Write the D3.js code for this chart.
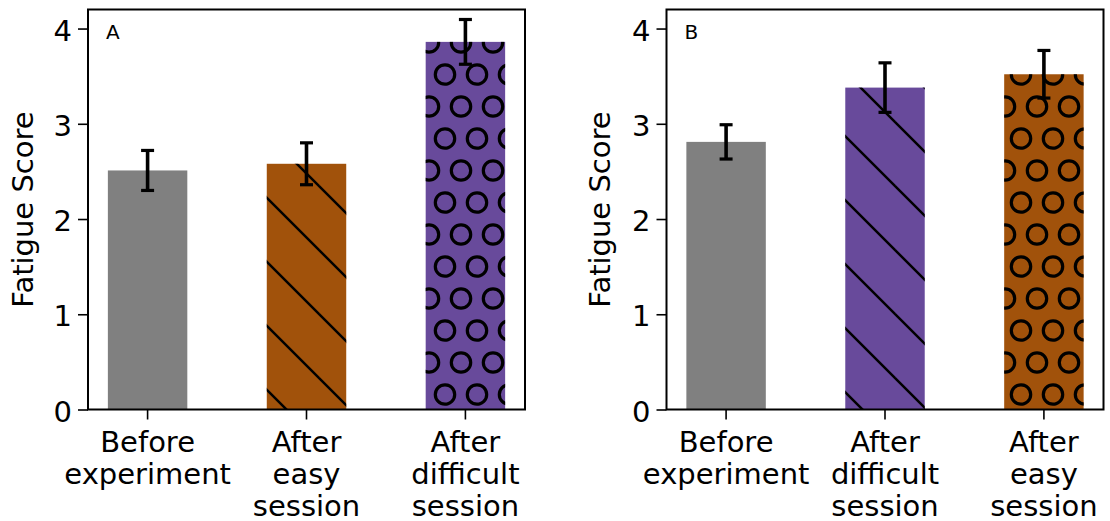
<!DOCTYPE html>
<html>
<head>
<meta charset="utf-8">
<script src="https://cdn.jsdelivr.net/npm/d3@7"></script>
<style>
  html, body { margin: 0; padding: 0; background: #fff; }
  svg { display: block; }
  text { font-family: "DejaVu Sans", sans-serif; fill: #000; }
</style>
</head>
<body>
<svg id="chart" width="1110" height="521"></svg>
<script>
// ---- data ----
const panelLabels = ["A", "B"];
const categoriesA = ["Before\nexperiment", "After\neasy\nsession", "After\ndifficult\nsession"];
const valuesA = [2.51, 2.58, 3.86];
const errorsA = [0.21, 0.22, 0.235];
const categoriesB = ["Before\nexperiment", "After\ndifficult\nsession", "After\neasy\nsession"];
const valuesB = [2.81, 3.38, 3.52];
const errorsB = [0.18, 0.26, 0.25];
const yTicks = [0, 1, 2, 3, 4];
const yMax = 4.2;
const yLabel = "Fatigue Score";

// ---- styles ----
const GRAY = "#808080", ORANGE = "#a1520b", PURPLE = "#684a9b";
const stylesA = [{fill: GRAY, pat: null}, {fill: ORANGE, pat: "hatch"}, {fill: PURPLE, pat: "circles"}];
const stylesB = [{fill: GRAY, pat: null}, {fill: PURPLE, pat: "hatch"}, {fill: ORANGE, pat: "circles"}];
const FONT = 29;

const svg = d3.select("#chart");
const defs = svg.append("defs");

// diagonal hatch pattern (lines going down-right)
const hp = defs.append("pattern").attr("id", "hatch")
  .attr("patternUnits", "userSpaceOnUse").attr("width", 64).attr("height", 64);
[-69, -5, 59].forEach(c => {
  hp.append("line").attr("x1", -10).attr("y1", -10 + c).attr("x2", 74).attr("y2", 74 + c)
    .attr("stroke", "#000").attr("stroke-width", 2.5);
});

// circles pattern
const cw = 32, ch = 64;
const cp = defs.append("pattern").attr("id", "circles")
  .attr("patternUnits", "userSpaceOnUse").attr("width", cw).attr("height", ch);
[[29, 10.5], [13, 42.5]].forEach(([cx, cy]) => {
  [-cw, 0, cw].forEach(dx => [-ch, 0, ch].forEach(dy => {
    cp.append("circle").attr("cx", cx + dx).attr("cy", cy + dy).attr("r", 9.7)
      .attr("fill", "none").attr("stroke", "#000").attr("stroke-width", 3.2);
  }));
});

const panels = [
  {label: panelLabels[0], cats: categoriesA, vals: valuesA, errs: errorsA, styles: stylesA,
   left: 88, right: 525, ylabX: 33},
  {label: panelLabels[1], cats: categoriesB, vals: valuesB, errs: errorsB, styles: stylesB,
   left: 666.5, right: 1103.5, ylabX: 610}
];
const plotTop = 9.5, plotBottom = 409.5;

panels.forEach(p => {
  const g = svg.append("g");
  const x = d3.scaleBand().domain(p.cats).range([p.left, p.right])
    .paddingInner(0.5).paddingOuter(0.125);
  const y = d3.scaleLinear().domain([0, yMax]).range([plotBottom, plotTop]);

  // bars
  const data = p.cats.map((c, i) => ({c, v: p.vals[i], e: p.errs[i], s: p.styles[i]}));
  g.selectAll("rect.bar").data(data).enter().append("rect").attr("class", "bar")
    .attr("x", d => x(d.c)).attr("width", x.bandwidth())
    .attr("y", d => y(d.v)).attr("height", d => y(0) - y(d.v))
    .attr("fill", d => d.s.fill);
  g.selectAll("rect.pat").data(data.filter(d => d.s.pat)).enter().append("rect").attr("class", "pat")
    .attr("x", d => x(d.c)).attr("width", x.bandwidth())
    .attr("y", d => y(d.v)).attr("height", d => y(0) - y(d.v))
    .attr("fill", d => `url(#${d.s.pat})`);

  // error bars
  const eb = g.selectAll("g.err").data(data).enter().append("g").attr("class", "err");
  const cx = d => x(d.c) + x.bandwidth() / 2;
  eb.append("line").attr("x1", cx).attr("x2", cx)
    .attr("y1", d => y(d.v - d.e)).attr("y2", d => y(d.v + d.e))
    .attr("stroke", "#000").attr("stroke-width", 3.6);
  [d => d.v - d.e, d => d.v + d.e].forEach(f => {
    eb.append("line").attr("x1", d => cx(d) - 6.5).attr("x2", d => cx(d) + 6.5)
      .attr("y1", d => y(f(d))).attr("y2", d => y(f(d)))
      .attr("stroke", "#000").attr("stroke-width", 3.2);
  });

  // y axis
  const yAxis = g.append("g").attr("transform", `translate(${p.left},0)`)
    .call(d3.axisLeft(y).tickValues(yTicks).tickFormat(d3.format("d")).tickSize(10).tickPadding(6));
  yAxis.select(".domain").remove();
  yAxis.selectAll(".tick line").attr("stroke", "#000").attr("stroke-width", 1.6);
  yAxis.selectAll(".tick text").attr("font-size", FONT).attr("font-family", "DejaVu Sans")
    .attr("dy", "0.4em").attr("fill", "#000");

  // x axis
  const xAxis = g.append("g").attr("transform", `translate(0,${plotBottom})`)
    .call(d3.axisBottom(x).tickSize(10).tickFormat(""));
  xAxis.select(".domain").remove();
  xAxis.selectAll(".tick line").attr("stroke", "#000").attr("stroke-width", 1.6);
  xAxis.selectAll(".tick").each(function(d) {
    const t = d3.select(this).append("text").attr("text-anchor", "middle")
      .attr("font-size", FONT).attr("font-family", "DejaVu Sans").attr("fill", "#000");
    d.split("\n").forEach((line, i) => {
      t.append("tspan").attr("x", 0).attr("y", 42 + i * 32).text(line);
    });
  });

  // spines
  g.append("rect").attr("x", p.left).attr("y", plotTop)
    .attr("width", p.right - p.left).attr("height", plotBottom - plotTop)
    .attr("fill", "none").attr("stroke", "#000").attr("stroke-width", 2);

  // panel label
  g.append("text").attr("x", p.left + 18).attr("y", 39).attr("font-size", 20).text(p.label);

  // y label
  g.append("text").attr("transform", `translate(${p.ylabX},${(plotTop + plotBottom) / 2}) rotate(-90)`)
    .attr("text-anchor", "middle").attr("font-size", FONT).text(yLabel);
});
</script>
</body>
</html>
